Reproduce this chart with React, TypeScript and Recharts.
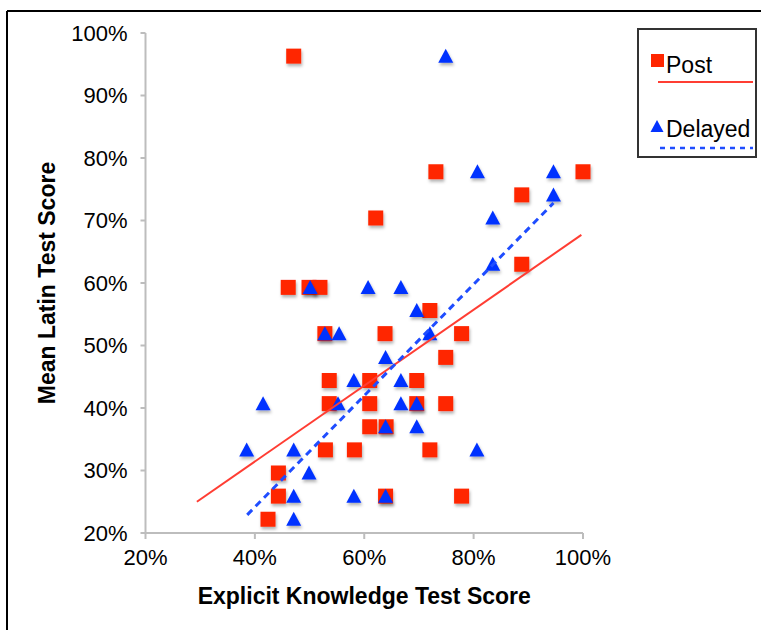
import React from 'react'
import { ScatterChart, Scatter, XAxis, YAxis } from 'recharts'

// values (percent)
const postX = [47.1, 73.1, 100, 88.8, 62.1, 88.8, 46.1, 49.9, 51.9, 72.0, 52.8, 63.8, 77.8, 74.9, 53.6, 61.0, 69.6, 53.6, 61.0, 69.6, 74.9, 61.0, 64.0, 52.9, 58.2, 72.0, 44.3, 44.3, 63.9, 77.8, 42.4]
const postY = [96.3, 77.8, 77.8, 74.1, 70.4, 63.0, 59.3, 59.3, 59.3, 55.6, 51.9, 51.9, 51.9, 48.1, 44.4, 44.4, 44.4, 40.7, 40.7, 40.7, 40.7, 37.0, 37.0, 33.3, 33.3, 33.3, 29.6, 25.9, 25.9, 25.9, 22.2]

const delayedX = [38.5, 41.5, 47.1, 47.1, 47.1, 49.9, 50.1, 52.8, 55.4, 55.2, 58.1, 58.1, 60.7, 63.9, 63.9, 63.9, 66.7, 66.7, 66.7, 69.6, 69.6, 69.6, 72.0, 80.6, 74.9, 80.7, 83.5, 83.5, 94.6, 94.6]
const delayedY = [33.3, 40.7, 33.3, 25.9, 22.2, 29.6, 59.3, 51.9, 51.9, 40.7, 44.4, 25.9, 59.3, 48.1, 37.0, 25.9, 59.3, 44.4, 40.7, 55.6, 40.7, 37.0, 51.9, 33.3, 96.3, 77.8, 70.4, 63.0, 77.8, 74.1]

// trendline end points
const postTrendX = [29.4, 99.7]
const postTrendY = [25.0, 67.7]
const delayedTrendX = [38.6, 94.6]
const delayedTrendY = [22.9, 72.8]

const xTicks = [20, 40, 60, 80, 100]
const yTicks = [20, 30, 40, 50, 60, 70, 80, 90, 100]

const RED = '#ff2600'
const BLUE = '#0433ff'
const FONT = '"Liberation Sans", Arial, Helvetica, sans-serif'

const toPoints = (xs: number[], ys: number[]) => xs.map((x, i) => ({ x, y: ys[i] }))

const Square = (props: any) => {
  const { cx, cy } = props
  if (cx == null || cy == null) return <g />
  return <rect x={cx - 7.5} y={cy - 7.5} width={15} height={15} fill={RED} filter="url(#ds)" />
}

const Triangle = (props: any) => {
  const { cx, cy } = props
  if (cx == null || cy == null) return <g />
  const pts = `${cx},${cy - 7.5} ${cx + 7.5},${cy + 6.5} ${cx - 7.5},${cy + 6.5}`
  return <polygon points={pts} fill={BLUE} filter="url(#ds)" />
}

const NoDot = () => <g />

const axisStyle = { stroke: '#bdbdbd', strokeWidth: 2 }

export default function App() {
  return (
    <div style={{ position: 'absolute', left: 0, top: 0, width: 761, height: 630, background: '#fff', fontFamily: FONT }}>
      <svg width={0} height={0} style={{ position: 'absolute' }}>
        <defs>
          <filter id="ds" x="-50%" y="-50%" width="200%" height="200%">
            <feDropShadow dx="1" dy="2.5" stdDeviation="1.5" floodColor="#000" floodOpacity="0.3" />
          </filter>
        </defs>
      </svg>
      <ScatterChart width={761} height={630} margin={{ top: 33, right: 178, bottom: 37, left: 0 }}>
        <XAxis
          type="number"
          dataKey="x"
          domain={[20, 100]}
          ticks={xTicks}
          tickFormatter={(v: number) => `${v}%`}
          axisLine={axisStyle}
          tickLine={axisStyle}
          tickSize={6}
          tickMargin={10}
          height={60}
          tick={{ fill: '#000', fontSize: 22, fontFamily: FONT }}
          label={{ value: 'Explicit Knowledge Test Score', position: 'insideBottom', offset: -11, style: { fill: '#000', fontSize: 23, fontWeight: 'bold', fontFamily: FONT } }}
        />
        <YAxis
          type="number"
          dataKey="y"
          domain={[20, 100]}
          ticks={yTicks}
          tickFormatter={(v: number) => `${v}%`}
          axisLine={axisStyle}
          tickLine={axisStyle}
          tickSize={5}
          tickMargin={13}
          width={145.5}
          tick={{ fill: '#000', fontSize: 22, fontFamily: FONT }}
          label={{ value: 'Mean Latin Test Score', angle: -90, position: 'insideLeft', dx: 42, style: { textAnchor: 'middle', fill: '#000', fontSize: 23, fontWeight: 'bold', fontFamily: FONT } }}
        />
        <Scatter name="Post" data={toPoints(postX, postY)} shape={<Square />} isAnimationActive={false} />
        <Scatter name="Delayed" data={toPoints(delayedX, delayedY)} shape={<Triangle />} isAnimationActive={false} />
        <Scatter
          data={toPoints(postTrendX, postTrendY)}
          shape={<NoDot />}
          line={{ stroke: '#ff3d33', strokeWidth: 2 }}
          isAnimationActive={false}
        />
        <Scatter
          data={toPoints(delayedTrendX, delayedTrendY)}
          shape={<NoDot />}
          line={{ stroke: '#1f4dff', strokeWidth: 3, strokeDasharray: '7 5' }}
          isAnimationActive={false}
        />
      </ScatterChart>
      <svg width={761} height={630} style={{ position: 'absolute', left: 0, top: 0, pointerEvents: 'none' }}>
        {/* outer frame */}
        <line x1={7} y1={11} x2={761} y2={11} stroke="#000" strokeWidth={2} />
        <line x1={7} y1={11} x2={7} y2={630} stroke="#000" strokeWidth={2} />
        {/* legend */}
        <rect x={638} y={29} width={118} height={128} fill="#fff" stroke="#333" strokeWidth={2} />
        <rect x={651} y={54} width={13} height={13} fill={RED} />
        <text x={666} y={73} fontSize={23} fontFamily={FONT} fill="#000">Post</text>
        <line x1={658} y1={82} x2={753} y2={82} stroke="#ff3d33" strokeWidth={2} />
        <polygon points="657,120 663.5,132 650.5,132" fill={BLUE} />
        <text x={666} y={137} fontSize={23} fontFamily={FONT} fill="#000">Delayed</text>
        <line x1={660} y1={148} x2={753} y2={148} stroke="#1f4dff" strokeWidth={2.5} strokeDasharray="5 5" />
      </svg>
    </div>
  )
}
